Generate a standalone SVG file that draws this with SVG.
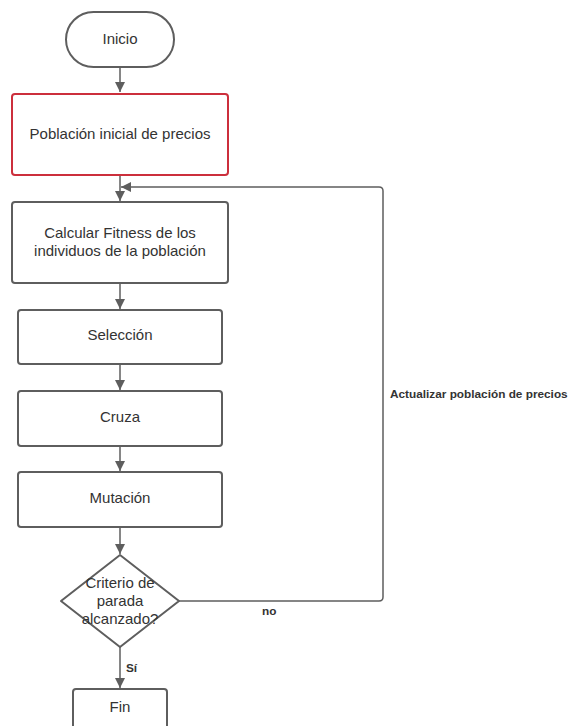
<svg xmlns="http://www.w3.org/2000/svg" width="569" height="726" viewBox="0 0 569 726">
<defs>
<style>
.box{fill:#fff;stroke:#5e5e5e;stroke-width:2}
.red{fill:#fff;stroke:#cc2f3c;stroke-width:2}
.t{font-family:"Liberation Sans",Arial,sans-serif;font-size:15px;fill:#333;text-anchor:middle}
.lbl{font-family:"Liberation Sans",Arial,sans-serif;font-size:11.8px;font-weight:bold;fill:#333}
.c{fill:none;stroke:#5e5e5e;stroke-width:1.5}
</style>
<marker id="ah" viewBox="0 0 10 10" refX="10" refY="5" markerWidth="10" markerHeight="10" markerUnits="userSpaceOnUse" orient="auto">
<path d="M0,0 L10,5 L0,10 Z" fill="#5e5e5e"/>
</marker>
</defs>
<rect width="569" height="726" fill="#fff"/>
<g id="connectors">
<path class="c" d="M120,67 V92" marker-end="url(#ah)"/>
<path class="c" d="M120,175 V201" marker-end="url(#ah)"/>
<path class="c" d="M179,601 H379 Q383,601 383,597 V191 Q383,187 379,187 H121" marker-end="url(#ah)"/>
<path class="c" d="M120,283 V309" marker-end="url(#ah)"/>
<path class="c" d="M120,364 V390" marker-end="url(#ah)"/>
<path class="c" d="M120,446 V471" marker-end="url(#ah)"/>
<path class="c" d="M120,527 V554" marker-end="url(#ah)"/>
<path class="c" d="M120,647 V688" marker-end="url(#ah)"/>
<text class="lbl" x="262" y="615">no</text>
<text class="lbl" x="126" y="672">Sí</text>
<text class="lbl" x="390" y="398">Actualizar población de precios</text>
</g>
<g id="inicio">
<rect class="box" x="66" y="12" width="108" height="55" rx="27.5"/>
<text class="t" x="120" y="44">Inicio</text>
</g>
<g id="poblacion">
<rect class="red" x="12" y="94" width="216" height="81" rx="3"/>
<text class="t" x="120" y="139">Población inicial de precios</text>
</g>
<g id="fitness">
<rect class="box" x="12" y="202" width="216" height="81" rx="3"/>
<text class="t" x="120" y="238">Calcular Fitness de los</text>
<text class="t" x="120" y="256">individuos de la población</text>
</g>
<g id="seleccion">
<rect class="box" x="18" y="310" width="204" height="54" rx="3"/>
<text class="t" x="120" y="340">Selección</text>
</g>
<g id="cruza">
<rect class="box" x="18" y="391" width="204" height="55" rx="3"/>
<text class="t" x="120" y="422">Cruza</text>
</g>
<g id="mutacion">
<rect class="box" x="18" y="472" width="204" height="55" rx="3"/>
<text class="t" x="120" y="503">Mutación</text>
</g>
<g id="criterio">
<path class="box" d="M120,555 L179,601 L120,647 L61,601 Z" stroke-linejoin="round"/>
<text class="t" x="120" y="588">Criterio de</text>
<text class="t" x="120" y="606">parada</text>
<text class="t" x="120" y="624">alcanzado?</text>
</g>
<g id="fin">
<rect class="box" x="73" y="689" width="94" height="50" rx="3"/>
<text class="t" x="120" y="712">Fin</text>
</g>
</svg>
